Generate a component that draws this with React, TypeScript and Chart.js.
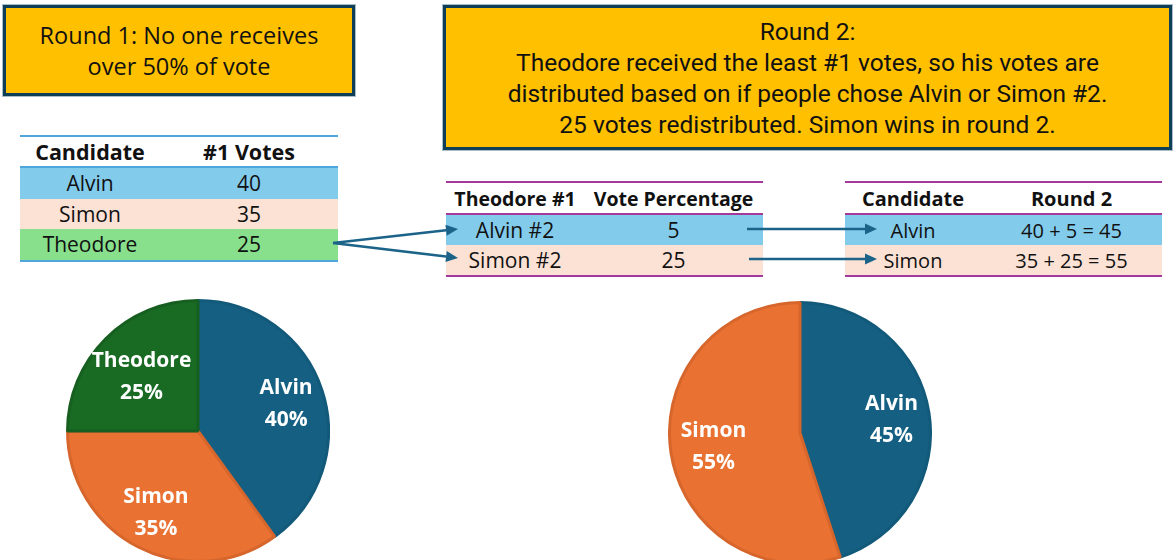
import React, { useEffect, useRef } from "react";
import { Chart, registerables } from "chart.js";

Chart.register(...registerables);

// ---------- data ----------
const round1Candidates = ["Alvin", "Simon", "Theodore"];
const round1Votes = [40, 35, 25];
const transferLabels = ["Alvin #2", "Simon #2"];
const transferVotes = [5, 25];
const round2Candidates = ["Alvin", "Simon"];
const round2Base = [40, 35];
const round2Votes = [45, 55];

const round1Title = ["Round 1: No one receives", "over 50% of vote"];
const round2Title = [
  "Round 2:",
  "Theodore received the least #1 votes, so his votes are",
  "distributed based on if people chose Alvin or Simon #2.",
  "25 votes redistributed. Simon wins in round 2.",
];

// ---------- styles ----------
const SLICE_FILL: Record<string, string> = { Alvin: "#156082", Simon: "#E97132", Theodore: "#196B24" };
const SLICE_BORDER: Record<string, string> = { Alvin: "#12597A", Simon: "#D6662C", Theodore: "#175F21" };
const ROW_FILL: Record<string, string> = { Alvin: "#83CBEB", Simon: "#FBE2D5", Theodore: "#88DF8C" };

const FONT = '"Open Sans", "DejaVu Sans", sans-serif';

type Nudge = [number, number];

function labelPlugin(nudges: Nudge[]) {
  return {
    id: "sliceLabels",
    afterDatasetsDraw(chart: any) {
      const meta = chart.getDatasetMeta(0);
      const values = chart.data.datasets[0].data as number[];
      const labels = chart.data.labels as string[];
      const total = values.reduce((a, b) => a + b, 0);
      const ctx = chart.ctx as CanvasRenderingContext2D;
      ctx.save();
      ctx.fillStyle = "#ffffff";
      ctx.font = `bold 21px ${FONT}`;
      ctx.textAlign = "center";
      ctx.textBaseline = "middle";
      meta.data.forEach((arc: any, i: number) => {
        const p = arc.getProps(["x", "y", "startAngle", "endAngle", "outerRadius"], true);
        const mid = (p.startAngle + p.endAngle) / 2;
        const r = p.outerRadius * 0.71;
        const n = nudges[i] || [0, 0];
        const px = p.x + Math.cos(mid) * r + n[0];
        const py = p.y + Math.sin(mid) * r + n[1] + 2;
        const pct = Math.round((values[i] / total) * 100);
        ctx.fillText(labels[i], px, py - 16);
        ctx.fillText(`${pct}%`, px, py + 16);
      });
      ctx.restore();
    },
  };
}

function Pie(props: { labels: string[]; values: number[]; nudges: Nudge[]; left: number; top: number; size: number }) {
  const ref = useRef<HTMLCanvasElement | null>(null);
  useEffect(() => {
    if (!ref.current) return;
    const chart = new Chart(ref.current, {
      type: "pie",
      data: {
        labels: props.labels,
        datasets: [
          {
            data: props.values,
            backgroundColor: props.labels.map((l) => SLICE_FILL[l]),
            borderColor: props.labels.map((l) => SLICE_BORDER[l]),
            borderWidth: 3,
          },
        ],
      },
      options: {
        animation: false,
        responsive: false,
        maintainAspectRatio: false,
        layout: { padding: 0 },
        plugins: { legend: { display: false }, tooltip: { enabled: false } },
        events: [],
      },
      plugins: [labelPlugin(props.nudges)],
    });
    return () => chart.destroy();
  }, []);
  return (
    <canvas
      ref={ref}
      width={props.size}
      height={props.size}
      style={{ position: "absolute", left: props.left, top: props.top, width: props.size, height: props.size }}
    />
  );
}

function Box(props: { left: number; top: number; width: number; height: number; lines: string[]; font: string; size: number }) {
  return (
    <div
      style={{
        position: "absolute",
        left: props.left,
        top: props.top,
        width: props.width,
        height: props.height,
        boxSizing: "border-box",
        background: "#FFC000",
        border: "3px solid #0E3F56",
        boxShadow: "0 0 0 1px #A9BCC8",
        display: "flex",
        flexDirection: "column",
        justifyContent: "center",
        alignItems: "center",
        fontFamily: props.font,
        fontSize: props.size,
        lineHeight: "31px",
        color: "#111",
        whiteSpace: "nowrap",
      }}
    >
      {props.lines.map((l, i) => (
        <div key={i}>{l}</div>
      ))}
    </div>
  );
}

function Table(props: {
  left: number;
  top: number;
  width: number;
  col1: number;
  lineColor: string;
  headers: [string, string];
  headSize: number;
  bodySize: number;
  rows: { key: string; a: string; b: string }[];
  headH: number;
  rowH: number;
}) {
  const cell = (w: number | string, content: string, bold: boolean, size: number) => (
    <div
      style={{
        width: w,
        flex: typeof w === "string" ? 1 : undefined,
        textAlign: "center",
        fontWeight: bold ? 700 : 400,
        fontSize: size,
      }}
    >
      {content}
    </div>
  );
  return (
    <div
      style={{
        position: "absolute",
        left: props.left,
        top: props.top,
        width: props.width,
        fontFamily: FONT,
        color: "#111",
        whiteSpace: "nowrap",
      }}
    >
      <div style={{ height: 2, background: props.lineColor }} />
      <div style={{ height: props.headH, display: "flex", alignItems: "center" }}>
        {cell(props.col1, props.headers[0], true, props.headSize)}
        {cell("auto", props.headers[1], true, props.headSize)}
      </div>
      <div style={{ height: 2, background: props.lineColor }} />
      {props.rows.map((r, i) => (
        <div key={i} style={{ height: props.rowH, display: "flex", alignItems: "center", background: ROW_FILL[r.key] }}>
          {cell(props.col1, r.a, false, props.bodySize)}
          {cell("auto", r.b, false, props.bodySize)}
        </div>
      ))}
      <div style={{ height: 2, background: props.lineColor }} />
    </div>
  );
}

const ARROWS: [number, number, number, number][] = [
  [333, 243, 458, 229],
  [333, 243, 458, 258],
  [747, 229, 877, 229],
  [749, 259, 877, 259],
];

function Arrows() {
  const color = "#1C6389";
  return (
    <svg width={1175} height={560} style={{ position: "absolute", left: 0, top: 0, pointerEvents: "none" }}>
      {ARROWS.map(([x1, y1, x2, y2], i) => {
        const dx = x2 - x1;
        const dy = y2 - y1;
        const len = Math.hypot(dx, dy);
        const ux = dx / len;
        const uy = dy / len;
        const hl = 12;
        const hw = 5.5;
        const bx = x2 - ux * hl;
        const by = y2 - uy * hl;
        const pts = `${x2},${y2} ${bx - uy * hw},${by + ux * hw} ${bx + uy * hw},${by - ux * hw}`;
        return (
          <g key={i}>
            <line x1={x1} y1={y1} x2={bx} y2={by} stroke={color} strokeWidth={2.5} />
            <polygon points={pts} fill={color} />
          </g>
        );
      })}
    </svg>
  );
}

export default function App() {
  return (
    <div
      style={{
        position: "fixed",
        left: 0,
        top: 0,
        width: 1175,
        height: 560,
        overflow: "hidden",
        background: "#ffffff",
      }}
    >
      <Box left={3} top={5} width={352} height={91} lines={round1Title} font={FONT} size={23.5} />
      <Box left={443} top={5} width={729} height={145} lines={round2Title} font={'Roboto, "DejaVu Sans", sans-serif'} size={24.5} />

      <Table
        left={20}
        top={135}
        width={318}
        col1={140}
        lineColor="#4EA6DC"
        headers={["Candidate", "#1 Votes"]}
        headSize={21.5}
        bodySize={21}
        rows={round1Candidates.map((c, i) => ({ key: c, a: c, b: String(round1Votes[i]) }))}
        headH={29}
        rowH={30.5}
      />
      <Table
        left={446}
        top={181}
        width={317}
        col1={138}
        lineColor="#A33A9B"
        headers={["Theodore #1", "Vote Percentage"]}
        headSize={19.5}
        bodySize={21}
        rows={transferLabels.map((c, i) => ({ key: round2Candidates[i], a: c, b: String(transferVotes[i]) }))}
        headH={30}
        rowH={30}
      />
      <Table
        left={845}
        top={181}
        width={317}
        col1={136}
        lineColor="#A33A9B"
        headers={["Candidate", "Round 2"]}
        headSize={20}
        bodySize={20}
        rows={round2Candidates.map((c, i) => ({
          key: c,
          a: c,
          b: `${round2Base[i]} + ${transferVotes[i]} = ${round2Votes[i]}`,
        }))}
        headH={30}
        rowH={30}
      />

      <Arrows />

      <Pie labels={round1Candidates} values={round1Votes} nudges={[[0, 0], [0, -3], [9, 10]]} left={65.5} top={299} size={264} />
      <Pie labels={round2Candidates} values={round2Votes} nudges={[[0, 0], [5, -2]]} left={667.5} top={301} size={264} />
    </div>
  );
}
